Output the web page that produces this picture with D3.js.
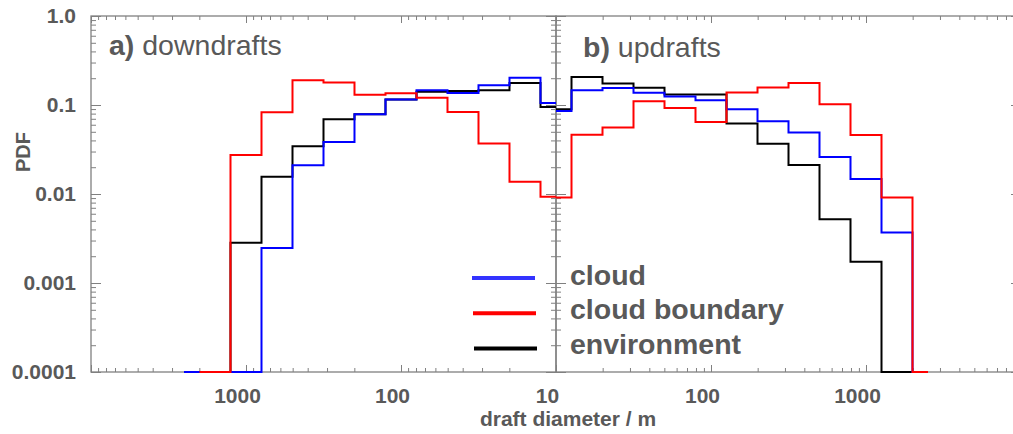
<!DOCTYPE html>
<html>
<head>
<meta charset="utf-8">
<script src="https://cdn.jsdelivr.net/npm/d3@7"></script>
<style>
body { margin: 0; background: #fff; }
text { font-family: "Liberation Sans", Arial, sans-serif; fill: #595959; }
</style>
</head>
<body>
<svg id="chart" width="1013" height="434"></svg>
<script>
// histogram bin centres, draft diameter in m
var binCentres = [10, 15.85, 25.12, 39.81, 63.10, 100, 158.5, 251.2, 398.1, 631.0, 1000, 1585, 2512];

// a) downdrafts
var downCloud    = [0.1055, 0.203, 0.1667, 0.1367, 0.1465, 0.115, 0.0788, 0.0385, 0.0211, 0.00247, 0, 0, 0];
var downBoundary = [0.0093, 0.0137, 0.0369, 0.0836, 0.121, 0.1355, 0.130, 0.179, 0.19, 0.083, 0.0275, 0, null];
var downEnv      = [0.0952, 0.177, 0.1465, 0.144, 0.1405, 0.115, 0.0788, 0.0692, 0.0344, 0.0156, 0.00283, 0, 0];

// b) updrafts
var upCloud    = [0.0859, 0.1465, 0.1555, 0.137, 0.125, 0.113, 0.0897, 0.0657, 0.0491, 0.0261, 0.0147, 0.0037, 0];
var upBoundary = [0.00914, 0.0462, 0.0558, 0.110, 0.0927, 0.0646, 0.138, 0.157, 0.177, 0.102, 0.0461, 0.00914, 0];
var upEnv      = [0.0897, 0.2065, 0.174, 0.156, 0.131, 0.131, 0.0619, 0.0366, 0.0212, 0.00522, 0.00173, 0, 0];

var seriesNames  = ["cloud", "cloud boundary", "environment"];
var seriesColors = ["#0000ff", "#ff0000", "#000000"];

var yTickValues = [0.0001, 0.001, 0.01, 0.1, 1];
var yTickLabels = ["0.0001", "0.001", "0.01", "0.1", "1.0"];
var xTickValues = [10, 100, 1000];
var xTickLabels = ["10", "100", "1000"];

var svg = d3.select("#chart");
var top0 = 16, bottom = 372, left = 91, mid = 556, right = 1021;
var axisGrey = "#808080";

var y = d3.scaleLog().domain([1e-4, 1]).range([bottom, top0]);
var xDown = d3.scaleLog().domain([10000, 10]).range([left, mid]);
var xUp = d3.scaleLog().domain([10, 10000]).range([mid, right]);

function isMajor(v) {
    var l = Math.log10(v);
    return Math.abs(l - Math.round(l)) < 1e-6;
}

// ticks drawn with d3 axes, pointing inward
function ticks(axis, tx, ty, values, size) {
    svg.append("g")
        .attr("transform", "translate(" + tx + "," + ty + ")")
        .attr("color", axisGrey)
        .call(axis.tickValues(values).tickSize(-size).tickFormat(""))
        .call(function(g) { g.select(".domain").remove(); });
}

function panel(x, x0, x1) {
    var xt = x.ticks();
    var xMinor = xt.filter(function(v) { return !isMajor(v); });
    var xMajor = xt.filter(isMajor);
    var yt = y.ticks();
    var yMinor = yt.filter(function(v) { return !isMajor(v); });
    var yMajor = yt.filter(isMajor);

    ticks(d3.axisBottom(x), 0, bottom, xMinor, 4);
    ticks(d3.axisBottom(x), 0, bottom, xMajor, 7);
    ticks(d3.axisTop(x), 0, top0, xMinor, 4);
    ticks(d3.axisTop(x), 0, top0, xMajor, 7);
    ticks(d3.axisLeft(y), x0, 0, yMinor, 5);
    ticks(d3.axisLeft(y), x0, 0, yMajor, 10);
    ticks(d3.axisRight(y), x1, 0, yMinor, 5);
    ticks(d3.axisRight(y), x1, 0, yMajor, 10);

    svg.append("rect")
        .attr("x", x0).attr("y", top0)
        .attr("width", x1 - x0).attr("height", bottom - top0)
        .attr("fill", "none")
        .attr("stroke", axisGrey)
        .attr("stroke-width", 1.3);
}

panel(xDown, left, mid);
panel(xUp, mid, right);

// y tick labels
svg.append("g")
    .attr("transform", "translate(" + left + ",0)")
    .call(d3.axisLeft(y).tickValues(yTickValues).tickSize(0)
        .tickFormat(function(d, i) { return yTickLabels[i]; }))
    .call(function(g) { g.select(".domain").remove(); })
    .selectAll("text")
    .attr("x", -15)
    .style("font-size", "21px")
    .style("font-weight", "bold");

// x tick labels
function xLabels(x, values) {
    svg.append("g")
        .attr("transform", "translate(0," + bottom + ")")
        .call(d3.axisBottom(x).tickValues(values).tickSize(0)
            .tickFormat(function(d) { return xTickLabels[xTickValues.indexOf(d)]; }))
        .call(function(g) { g.select(".domain").remove(); })
        .selectAll("text")
        .attr("x", -9)
        .attr("y", 31)
        .attr("dy", null)
        .style("font-size", "21px")
        .style("font-weight", "bold");
}
xLabels(xDown, xTickValues);
xLabels(xUp, xTickValues.filter(function(v) { return v > 10; }));

// step histograms, IDL style: steps change halfway between bin centres
function steps(x, values, color) {
    var line = d3.line()
        .defined(function(d) { return d[1] != null; })
        .x(function(d) { return x(d[0]); })
        .y(function(d) { return y(Math.max(d[1], 1e-4)); })
        .curve(d3.curveStep);
    var pts = binCentres.map(function(c, i) { return [c, values[i]]; });
    // a series that stops early closes its last bin at the bin edge
    var last = values.length - 1;
    while (values[last] == null) last--;
    if (last < values.length - 1) {
        pts[last + 1] = [Math.sqrt(binCentres[last] * binCentres[last + 1]), values[last]];
    }
    svg.append("path")
        .datum(pts)
        .attr("d", line)
        .attr("fill", "none")
        .attr("stroke", color)
        .attr("stroke-width", 2);
}
steps(xDown, downEnv, seriesColors[2]);
steps(xDown, downCloud, seriesColors[0]);
steps(xDown, downBoundary, seriesColors[1]);
steps(xUp, upEnv, seriesColors[2]);
steps(xUp, upCloud, seriesColors[0]);
steps(xUp, upBoundary, seriesColors[1]);

// panel titles
function title(x, yy, tag, word) {
    var t = svg.append("text").attr("x", x).attr("y", yy).style("font-size", "28.5px");
    t.append("tspan").style("font-weight", "bold").text(tag);
    t.append("tspan").text(" " + word);
}
title(109, 55, "a)", "downdrafts");
title(583, 57, "b)", "updrafts");

// axis titles
svg.append("text")
    .attr("x", 568).attr("y", 426)
    .attr("text-anchor", "middle")
    .style("font-size", "21px").style("font-weight", "bold")
    .text("draft diameter / m");

svg.append("text")
    .attr("transform", "translate(30,152) rotate(-90)")
    .attr("text-anchor", "middle")
    .style("font-size", "20px").style("font-weight", "bold")
    .text("PDF");

// legend
var legendColors = ["#3333ff", "#ff0000", "#000000"];
var legend = svg.append("g");
seriesNames.forEach(function(name, i) {
    var ly = 278 + i * 35.3;
    legend.append("line")
        .attr("x1", 472 + i).attr("x2", 535 + i)
        .attr("y1", ly).attr("y2", ly)
        .attr("stroke", legendColors[i])
        .attr("stroke-width", 4);
    legend.append("text")
        .attr("x", 570).attr("y", 285 + i * 34.4)
        .style("font-size", "28.5px").style("font-weight", "bold")
        .text(name);
});
</script>
</body>
</html>
